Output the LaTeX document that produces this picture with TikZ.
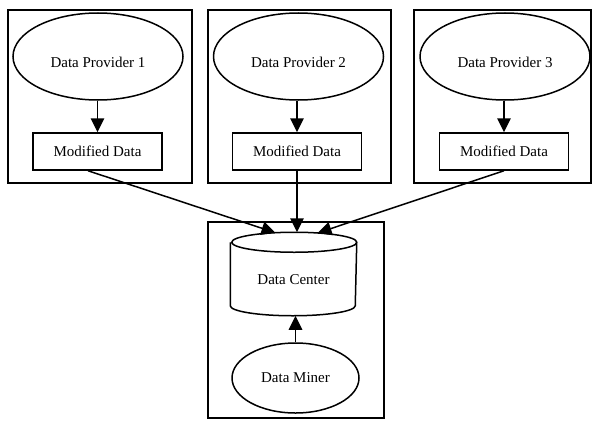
\documentclass[tikz,border=0pt]{standalone}
\usepackage{fontspec}
\setmainfont{Liberation Serif}
\usetikzlibrary{arrows.meta,shapes.geometric}
\tikzset{
  base/.style={line width=1.5pt, font=\fontsize{15}{18}\selectfont, inner sep=0pt},
  cluster/.style={base, draw, rectangle},
  provider/.style={base, draw, ellipse, minimum width=170pt, minimum height=87pt,
    text height=21pt, text depth=0pt},
  miner/.style={base, draw, ellipse, minimum width=127pt, minimum height=70pt},
  databox/.style={base, draw, rectangle, minimum width=129pt, minimum height=37pt},
  store/.style={base, rectangle, minimum width=125pt, minimum height=82pt,
    text height=21.5pt, text depth=0pt},
  flow/.style={line width=1.5pt, -{Triangle[length=14pt,width=13.5pt]}}
}
\begin{document}
\begin{tikzpicture}[x=1pt, y=-1pt]
  \useasboundingbox (0,0) rectangle (593,420);

  % cluster frames
  \node[cluster, minimum width=184pt, minimum height=173pt] (c1) at (100,96.5) {};
  \node[cluster, minimum width=183pt, minimum height=173pt] (c2) at (299.5,96.5) {};
  \node[cluster, minimum width=177pt, minimum height=173pt] (c3) at (502.5,96.5) {};
  \node[cluster, minimum width=176pt, minimum height=196pt] (c4) at (296,320) {};

  % providers and their modified data
  \node[provider] (p1) at (98,56.5) {Data Provider 1};
  \node[provider] (p2) at (298.5,56.5) {Data Provider 2};
  \node[provider] (p3) at (505,56.5) {Data Provider 3};

  \node[databox] (m1) at (97.5,151.5) {Modified Data};
  \node[databox] (m2) at (297,151.5) {Modified Data};
  \node[databox] (m3) at (504,151.5) {Modified Data};

  % data center (cylinder) and miner
  \node[store] (dc) at (293.5,274) {Data Center};
  \draw[line width=1.5pt]
    ([yshift=-10pt]dc.north west) -- ([yshift=10pt]dc.south west)
    arc[start angle=180, end angle=360, x radius=62.5pt, y radius=10pt]
    -- ([yshift=-10pt]dc.north east)
    arc[start angle=0, end angle=360, x radius=62.5pt, y radius=10pt];

  \node[miner] (dm) at (295.5,378) {Data Miner};

  % edges
  \draw[flow] (p1.south -| m1.north) -- (m1.north);
  \draw[flow] (p2.south -| m2.north) -- (m2.north);
  \draw[flow] (p3.south -| m3.north) -- (m3.north);

  \draw[flow] ([xshift=-9.5pt]m1.south) -- ([xshift=-18pt,yshift=-0.5pt]dc.north);
  \draw[flow] (m2.south) -- (m2.south |- dc.north);
  \draw[flow] (m3.south) -- ([xshift=24pt,yshift=-0.8pt]dc.north);

  \draw[flow] (dm.north) -- (dm.north |- dc.south);
\end{tikzpicture}
\end{document}
